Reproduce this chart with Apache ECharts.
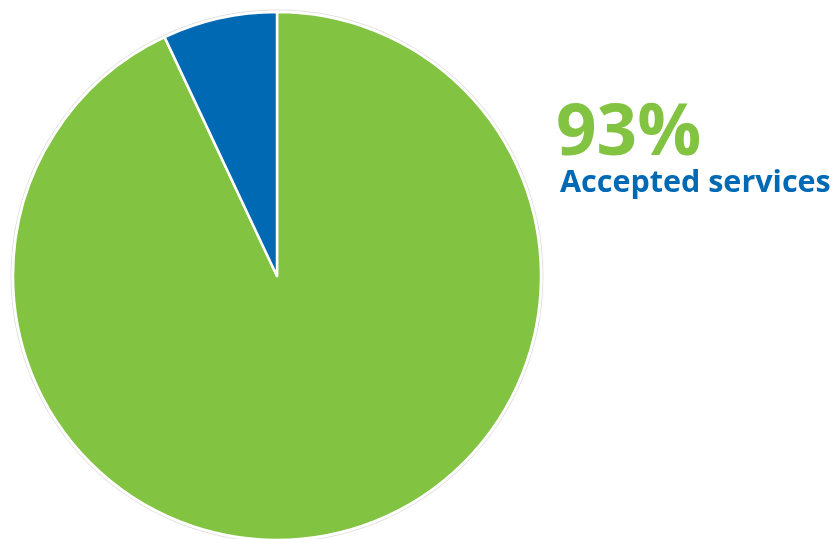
<!DOCTYPE html>
<html><head><meta charset="utf-8">
<script src="https://cdn.jsdelivr.net/npm/echarts@6/dist/echarts.min.js"></script>
<style>html,body{margin:0;padding:0;background:#fff}#c{width:833px;height:539px}</style>
</head><body><div id="c"></div>
<script>
const categories = ['Accepted services', 'Other'];
const values = [93, 7];
const colors = ['#82C341', '#0069B4'];

const chart = echarts.init(document.getElementById('c'));
const total = values.reduce((a, b) => a + b, 0);
const pct = Math.round(values[0] / total * 100) + '%';
chart.setOption({
  animation: false,
  series: [
    {
      type: 'pie', silent: true, center: [277, 276], radius: [265.5, 266.5],
      startAngle: 90, label: { show: false }, labelLine: { show: false },
      itemStyle: { color: '#e2e2e2' }, data: [{ value: 1, name: 'ring' }]
    },
    {
      type: 'pie', center: [277, 276], radius: [0, 264],
      startAngle: 90, clockwise: true,
      label: { show: false }, labelLine: { show: false },
      itemStyle: { borderColor: '#fff', borderWidth: 2.5 },
      data: categories.map((c, i) => ({ name: c, value: values[i], itemStyle: { color: colors[i] } }))
    }
  ],
  graphic: [
    { type: 'text', left: 556, top: 99, style: { text: pct, fill: colors[0], font: 'bold 71px "Open Sans"' } },
    { type: 'text', left: 560, top: 168, style: { text: categories[0], fill: colors[1], font: 'bold 30.5px "Open Sans"' } }
  ]
});
</script></body></html>
